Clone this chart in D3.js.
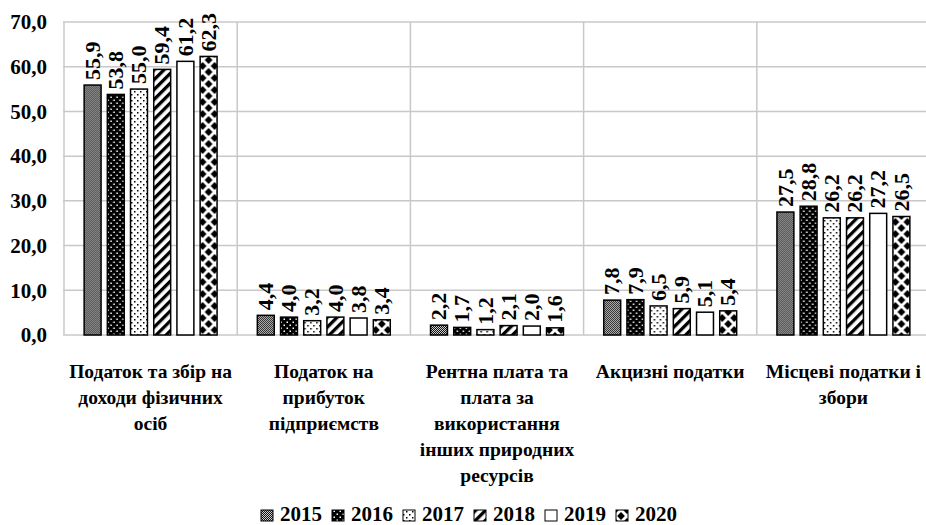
<!DOCTYPE html>
<html>
  <head>
    <meta charset="UTF-8" />
    <script src="https://cdnjs.cloudflare.com/ajax/libs/d3/7.8.5/d3.min.js"></script>
    <title>Chart</title>
    <style>
      body {
        margin: 0;
        background: white;
      }
      .grid line {
        stroke: #c8c8c8;
        stroke-width: 1.5;
      }
      .bar {
        stroke: black;
        stroke-width: 1.5;
      }
    </style>
  </head>
  <body>
    <script>
      const categories = [
        ["Податок та збір на", "доходи фізичних", "осіб"],
        ["Податок на", "прибуток", "підприємств"],
        ["Рентна плата та", "плата за", "використання", "інших природних", "ресурсів"],
        ["Акцизні податки"],
        ["Місцеві податки і", "збори"],
      ];
      const years = ["2015", "2016", "2017", "2018", "2019", "2020"];
      const v2015 = [55.9, 4.4, 2.2, 7.8, 27.5];
      const v2016 = [53.8, 4.0, 1.7, 7.9, 28.8];
      const v2017 = [55.0, 3.2, 1.2, 6.5, 26.2];
      const v2018 = [59.4, 4.0, 2.1, 5.9, 26.2];
      const v2019 = [61.2, 3.8, 2.0, 5.1, 27.2];
      const v2020 = [62.3, 3.4, 1.6, 5.4, 26.5];
      const yTicks = [0, 10, 20, 30, 40, 50, 60, 70];

      const series = [v2015, v2016, v2017, v2018, v2019, v2020];
      const FONT = '"Liberation Serif"';

      const width = 926,
        height = 525;
      const svg = d3
        .select("body")
        .append("svg")
        .attr("width", width)
        .attr("height", height);

      function serif(sel, size) {
        return sel
          .style("font-family", FONT)
          .style("font-weight", "bold")
          .style("font-size", size + "px")
          .style("fill", "black");
      }

      // fill patterns
      const defs = svg.append("defs");
      let p = defs
        .append("pattern")
        .attr("id", "p2015")
        .attr("patternUnits", "userSpaceOnUse")
        .attr("width", 2)
        .attr("height", 2);
      p.append("rect").attr("width", 2).attr("height", 2).attr("fill", "#cfcfcf");
      p.append("rect").attr("width", 1).attr("height", 1).attr("fill", "#111");
      p.append("rect").attr("x", 1).attr("y", 1).attr("width", 1).attr("height", 1).attr("fill", "#111");

      p = defs
        .append("pattern")
        .attr("id", "p2016")
        .attr("patternUnits", "userSpaceOnUse")
        .attr("width", 6)
        .attr("height", 6);
      p.append("rect").attr("width", 6).attr("height", 6).attr("fill", "black");
      p.append("rect").attr("x", 0.5).attr("y", 0.5).attr("width", 1.5).attr("height", 1.5).attr("fill", "white");
      p.append("rect").attr("x", 3.5).attr("y", 3.5).attr("width", 1.5).attr("height", 1.5).attr("fill", "white");

      p = defs
        .append("pattern")
        .attr("id", "p2017")
        .attr("patternUnits", "userSpaceOnUse")
        .attr("width", 6)
        .attr("height", 6);
      p.append("rect").attr("width", 6).attr("height", 6).attr("fill", "white");
      p.append("rect").attr("x", 1).attr("y", 1).attr("width", 1.5).attr("height", 1.5).attr("fill", "black");
      p.append("rect").attr("x", 4).attr("y", 4).attr("width", 1.5).attr("height", 1.5).attr("fill", "black");

      p = defs
        .append("pattern")
        .attr("id", "p2018")
        .attr("patternUnits", "userSpaceOnUse")
        .attr("width", 7)
        .attr("height", 7)
        .attr("patternTransform", "rotate(45)");
      p.append("rect").attr("width", 7).attr("height", 7).attr("fill", "white");
      p.append("rect").attr("width", 3.3).attr("height", 7).attr("fill", "black");

      p = defs
        .append("pattern")
        .attr("id", "p2019")
        .attr("patternUnits", "userSpaceOnUse")
        .attr("width", 4)
        .attr("height", 4);
      p.append("rect").attr("width", 4).attr("height", 4).attr("fill", "white");

      p = defs
        .append("pattern")
        .attr("id", "p2020")
        .attr("patternUnits", "userSpaceOnUse")
        .attr("width", 12)
        .attr("height", 12);
      p.append("rect").attr("width", 12).attr("height", 12).attr("fill", "white");
      const diamond = (cx, cy) =>
        `M${cx},${cy - 3.9} L${cx + 3.9},${cy} L${cx},${cy + 3.9} L${cx - 3.9},${cy} Z`;
      [[0, 0], [12, 0], [0, 12], [12, 12], [6, 6]].forEach(function (c) {
        p.append("path").attr("d", diamond(c[0], c[1])).attr("fill", "black");
      });

      const x0 = d3
        .scaleBand()
        .domain(d3.range(categories.length))
        .range([64, 930]);
      const x1 = d3
        .scaleBand()
        .domain(years)
        .range([0, 23.2 * 6])
        .paddingInner(0.27)
        .paddingOuter(0.135);
      const y = d3.scaleLinear().domain([0, 70]).range([335, 22]);

      // gridlines
      const grid = svg.append("g").attr("class", "grid");
      grid
        .selectAll("line.h")
        .data(yTicks)
        .enter()
        .append("line")
        .attr("x1", 63)
        .attr("x2", width)
        .attr("y1", (d) => y(d))
        .attr("y2", (d) => y(d));
      grid
        .selectAll("line.v")
        .data(d3.range(categories.length))
        .enter()
        .append("line")
        .attr("x1", (d) => x0(d))
        .attr("x2", (d) => x0(d))
        .attr("y1", y(70))
        .attr("y2", y(0));

      const fmt = (d) => d3.format(".1f")(d).replace(".", ",");

      // y axis labels
      svg
        .append("g")
        .selectAll("text")
        .data(yTicks)
        .enter()
        .append("text")
        .attr("x", 47)
        .attr("y", (d) => y(d))
        .attr("dy", "0.35em")
        .attr("text-anchor", "end")
        .call(serif, 21)
        .text(fmt);

      const groupOffset = (x0.bandwidth() - 23.2 * 6) / 2;

      // bars
      years.forEach(function (yr, si) {
        const g = svg
          .append("g")
          .selectAll("g")
          .data(series[si])
          .enter()
          .append("g")
          .attr("transform", function (d, i) {
            const cx = x0(i) + groupOffset + x1(yr) + x1.bandwidth() / 2;
            return `translate(${cx},0)`;
          });
        g.append("rect")
          .attr("class", "bar")
          .attr("x", -x1.bandwidth() / 2)
          .attr("y", (d) => y(d))
          .attr("width", x1.bandwidth())
          .attr("height", (d) => y(0) - y(d))
          .attr("fill", `url(#p${yr})`);
        g.append("text")
          .attr("transform", (d) => `translate(0,${y(d) - 5}) rotate(-90)`)
          .attr("dy", "0.33em")
          .call(serif, 22)
          .text(fmt);
      });

      // category labels
      const cat = svg
        .append("g")
        .selectAll("text")
        .data(categories)
        .enter()
        .append("text")
        .attr("text-anchor", "middle")
        .call(serif, 19.5);
      cat
        .selectAll("tspan")
        .data((d, i) => d.map((t) => ({ t: t, i: i })))
        .enter()
        .append("tspan")
        .attr("x", (d) => x0(d.i) + x0.bandwidth() / 2)
        .attr("y", (d, j) => 378 + j * 26)
        .text((d) => d.t);

      // legend
      const legend = svg.append("g");
      let lx = 0;
      years.forEach(function (yr) {
        legend
          .append("rect")
          .attr("x", lx)
          .attr("y", 510)
          .attr("width", 12)
          .attr("height", 11)
          .attr("fill", `url(#p${yr})`)
          .attr("stroke", "black")
          .attr("stroke-width", 1);
        const t = legend
          .append("text")
          .attr("x", lx + 19)
          .attr("y", 521)
          .call(serif, 21)
          .text(yr);
        lx += 19 + t.node().getComputedTextLength() + 10;
      });
      lx -= 10;
      legend.attr("transform", `translate(${469 - lx / 2},0)`);
    </script>
  </body>
</html>
